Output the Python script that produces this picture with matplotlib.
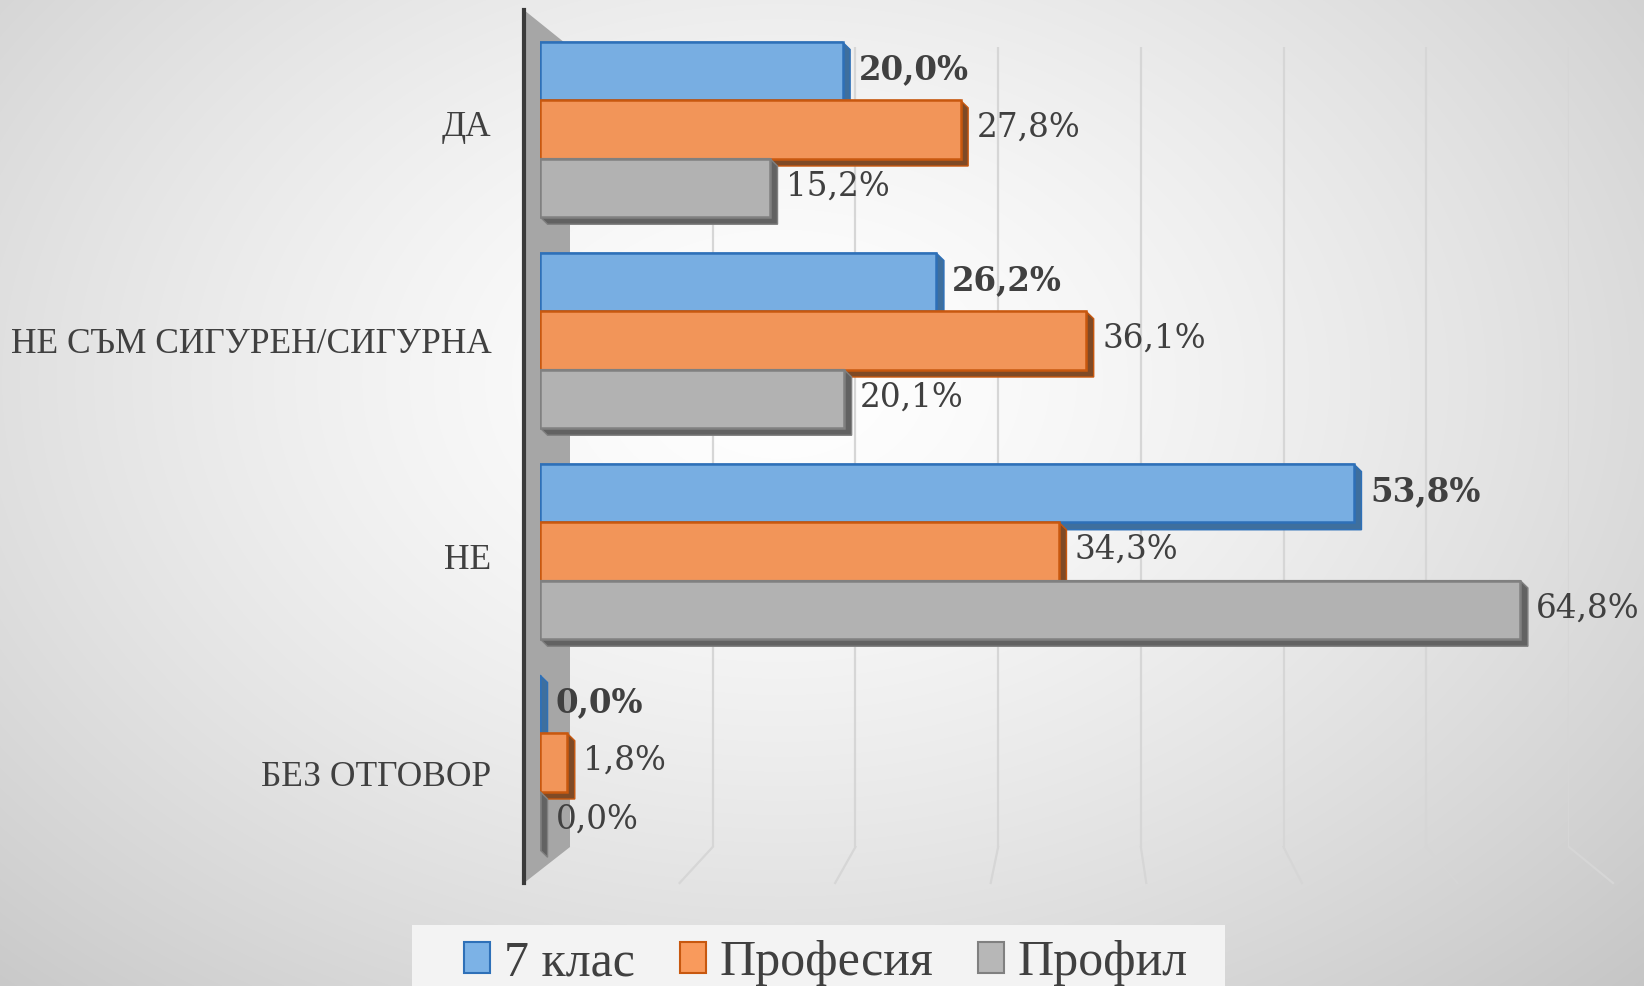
import numpy as np
import matplotlib
matplotlib.use("Agg")
import matplotlib.pyplot as plt
from matplotlib.patches import Polygon, Rectangle, Patch
from matplotlib.lines import Line2D
from matplotlib.colors import to_rgba

# ---------------- data ----------------
categories = ["ДА", "НЕ СЪМ СИГУРЕН/СИГУРНА", "НЕ", "БЕЗ ОТГОВОР"]
series_names = ["7 клас", "Професия", "Профил"]
vals_7klas = [20.0, 26.2, 53.8, 0.0]
vals_profesia = [27.8, 36.1, 34.3, 1.8]
vals_profil = [15.2, 20.1, 64.8, 0.0]
x_ticks = [0, 10, 20, 30, 40, 50, 60, 70]

series_vals = [vals_7klas, vals_profesia, vals_profil]
face_cols = ["#7cb2e6", "#f99a5c", "#b7b7b7"]
edge_cols = ["#2e70b8", "#c8580f", "#808080"]
side_cols = ["#3e6f9e", "#7f4a26", "#626262"]
label_bold = [True, False, False]
txt_col = "#404040"

W, H = 1644, 986
fig = plt.figure(figsize=(W / 100, H / 100), dpi=100)


def px_rect(x0, y0, x1, y1):
    return [x0 / W, 1 - y1 / H, (x1 - x0) / W, (y1 - y0) / H]


def to_fig(pts):
    return fig.transFigure.inverted().transform(pts)


# ---------------- background gradient ----------------
bg = fig.add_axes([0, 0, 1, 1], zorder=0)
yy, xx = np.mgrid[0:H, 0:W]
r = np.sqrt(((xx - 780) / 1150.0) ** 2 + ((yy - 380) / 820.0) ** 2)
c = 1 - 0.21 * np.clip(r, 0, 1.3) ** 1.4
img = np.dstack([c, c, c])
bg.imshow(img, aspect="auto", extent=[0, W, H, 0], interpolation="bilinear")
bg.set_xlim(0, W)
bg.set_ylim(H, 0)
bg.axis("off")

# legend box
bg.add_patch(Rectangle((412, 925), 1225 - 412, 70, fc="#f3f3f3", ec="none", zorder=1))

# ---------------- 3D frame: back wall gridlines, floor lines, side wall ----------------
ax_back = fig.add_axes(px_rect(570, 47, 1569, 847), zorder=1)
ax_back.set_xlim(x_ticks[0], x_ticks[-1])
ax_back.set_ylim(0, 1)
ax_back.axis("off")
ax_floor = fig.add_axes(px_rect(524, 10, 1613, 883), zorder=1)
ax_floor.set_xlim(x_ticks[0], x_ticks[-1])
ax_floor.set_ylim(0, 1)
ax_floor.axis("off")

for t in x_ticks[1:]:
    ax_back.axvline(t, color="#d6d6d6", lw=1.6, zorder=1)
    p_back = ax_back.transData.transform((t, 0))
    p_front = ax_floor.transData.transform((t, 0))
    f = to_fig([p_back, p_front])
    fig.add_artist(Line2D(f[:, 0], f[:, 1], transform=fig.transFigure,
                          color="#d6d6d6", lw=1.6, zorder=1))

# side wall at 0
bt = ax_back.transData.transform((0, 1))
bb = ax_back.transData.transform((0, 0))
ft = ax_floor.transData.transform((0, 1))
fb = ax_floor.transData.transform((0, 0))
wall = to_fig([ft, bt, bb, fb])
fig.add_artist(Polygon(wall, closed=True, transform=fig.transFigure,
                       fc="#a6a6a6", ec="none", zorder=1.5))
fl = to_fig([ft, fb])
fig.add_artist(Line2D(fl[:, 0], fl[:, 1], transform=fig.transFigure,
                      color="#3a3a3a", lw=3, zorder=1.6))

# ---------------- bars ----------------
ax = fig.add_axes(px_rect(540, 24, 1599, 868), zorder=2)
ax.patch.set_alpha(0)
ax.set_xlim(x_ticks[0], x_ticks[-1])
ax.set_ylim(len(categories) - 0.5, -0.5)
ax.axis("off")

h = 0.276
offsets = [-h, 0, h]
dx, dy = 0.5, 0.035

for i, vals in enumerate(series_vals):
    ys = [j + offsets[i] for j in range(len(categories))]
    for y, v in zip(ys, vals):
        top, bot = y - h / 2, y + h / 2
        hull = [(0, top), (v, top), (v + dx, top + dy), (v + dx, bot + dy),
                (dx, bot + dy), (0, bot)]
        ax.add_patch(Polygon(hull, closed=True, fc=side_cols[i], ec=edge_cols[i],
                             lw=1.0, zorder=3 + 2 * i))
    ax.barh(ys, vals, height=h, color=to_rgba(face_cols[i], 0.95),
            edgecolor=edge_cols[i], lw=1.8, zorder=4 + 2 * i)
    for y, v in zip(ys, vals):
        lab = f"{v:.1f}".replace(".", ",") + "%"
        ax.annotate(lab, xy=(v, y), xytext=(11.5, 1), textcoords="offset points",
                    ha="left", va="center", fontsize=23.5, family="DejaVu Serif",
                    weight="bold" if label_bold[i] else "normal", color=txt_col,
                    zorder=20)

# category labels on the front plane
ax_lab = fig.add_axes(px_rect(540, 15, 1599, 882), zorder=2)
ax_lab.patch.set_alpha(0)
ax_lab.set_ylim(len(categories) - 0.5, -0.5)
ax_lab.set_yticks(range(len(categories)))
ax_lab.set_yticklabels(categories, fontsize=25.5, family="Liberation Serif", color=txt_col)
ax_lab.tick_params(axis="y", length=0, pad=35)
ax_lab.set_xticks([])
for s in ax_lab.spines.values():
    s.set_visible(False)

# ---------------- legend ----------------
handles = [Patch(fc=face_cols[i], ec=edge_cols[i], lw=1.5) for i in range(3)]
fig.legend(handles, series_names, loc="center", bbox_to_anchor=(826 / W, 1 - 963 / H),
           ncol=3, frameon=False, prop={"family": "Liberation Serif", "size": 36},
           handlelength=0.52, handleheight=0.56, handletextpad=0.27,
           columnspacing=0.9, labelcolor=txt_col)

fig.savefig("out.png", dpi=100)
